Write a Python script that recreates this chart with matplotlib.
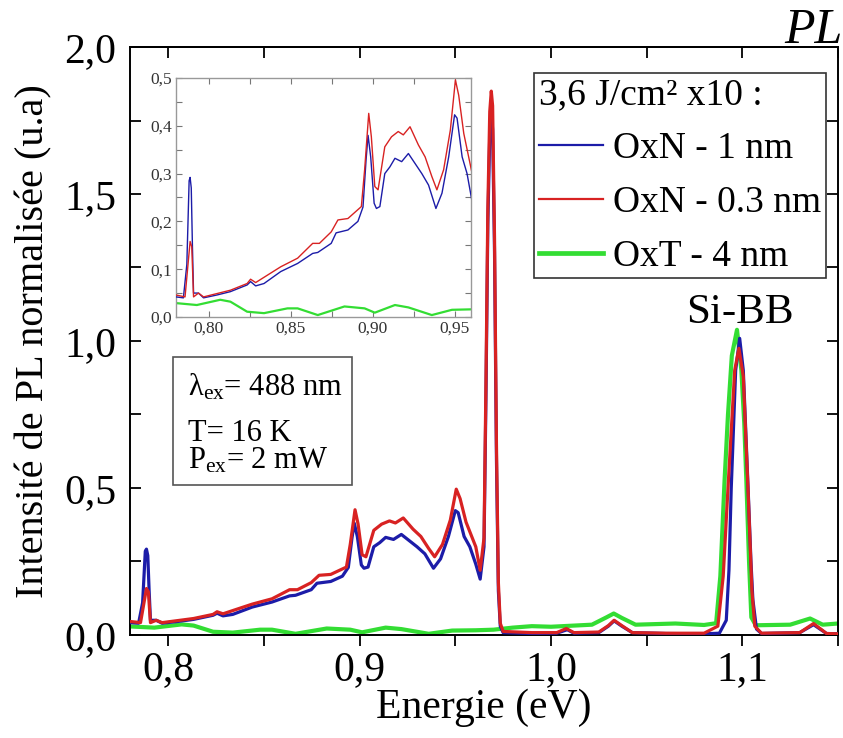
import matplotlib
matplotlib.use('Agg')
import matplotlib.pyplot as plt
from matplotlib.ticker import MultipleLocator
from matplotlib.patches import Rectangle

plt.rcParams['font.family'] = ['Liberation Serif', 'DejaVu Serif']
plt.rcParams['mathtext.fontset'] = 'custom'
plt.rcParams['mathtext.rm'] = 'Liberation Serif'
plt.rcParams['mathtext.it'] = 'Liberation Serif:italic'

# ---------------- data ----------------
E_blue = [0.7800, 0.7845, 0.7866, 0.7880, 0.7886, 0.7893, 0.7900, 0.7907, 0.7937, 0.7968,
          0.8050, 0.8132, 0.8234, 0.8255, 0.8286, 0.8337, 0.8439, 0.8542, 0.8634, 0.8665,
          0.8747, 0.8777, 0.8849, 0.8910, 0.8941, 0.8960, 0.8972, 0.8988, 0.9009, 0.9023,
          0.9044, 0.9074, 0.9105, 0.9136, 0.9177, 0.9218, 0.9259, 0.9300, 0.9341, 0.9386,
          0.9423, 0.9464, 0.9500, 0.9515, 0.9546, 0.9576, 0.9607, 0.9630, 0.9650, 0.9660,
          0.9670, 0.9680, 0.9688, 0.9695, 0.9705, 0.9715, 0.9725, 0.9735, 0.9750, 0.9900,
          1.0030, 1.0085, 1.0120, 1.0250, 1.0300, 1.0330, 1.0370, 1.0425, 1.0600, 1.0800,
          1.0880, 1.0916, 1.0930, 1.0942, 1.0965, 1.0986, 1.1005, 1.1030, 1.1045, 1.1055,
          1.1074, 1.1100, 1.1300, 1.1372, 1.1440, 1.1500]
I_blue = [0.042, 0.040, 0.110, 0.285, 0.292, 0.270, 0.150, 0.050, 0.050, 0.040,
          0.046, 0.053, 0.067, 0.074, 0.065, 0.070, 0.095, 0.112, 0.133, 0.135,
          0.154, 0.176, 0.182, 0.200, 0.230, 0.330, 0.380, 0.335, 0.238, 0.227,
          0.231, 0.300, 0.314, 0.332, 0.325, 0.342, 0.321, 0.300, 0.276, 0.227,
          0.259, 0.335, 0.423, 0.416, 0.335, 0.300, 0.241, 0.190, 0.300, 0.800,
          1.400, 1.700, 1.780, 1.720, 1.300, 0.600, 0.150, 0.030, 0.008, 0.005,
          0.006, 0.018, 0.006, 0.008, 0.030, 0.048, 0.030, 0.008, 0.005, 0.004,
          0.006, 0.050, 0.220, 0.500, 0.900, 1.009, 0.900, 0.500, 0.250, 0.120,
          0.020, 0.005, 0.008, 0.035, 0.005, 0.004]

E_red = [0.7800, 0.7855, 0.7870, 0.7886, 0.7896, 0.7907, 0.7937, 0.7968, 0.8132, 0.8234,
         0.8255, 0.8286, 0.8439, 0.8542, 0.8634, 0.8675, 0.8747, 0.8788, 0.8849, 0.8931,
         0.8951, 0.8976, 0.8992, 0.9013, 0.9033, 0.9074, 0.9115, 0.9156, 0.9187, 0.9228,
         0.9279, 0.9320, 0.9361, 0.9392, 0.9433, 0.9474, 0.9505, 0.9525, 0.9556, 0.9607,
         0.9630, 0.9650, 0.9660, 0.9670, 0.9680, 0.9688, 0.9695, 0.9705, 0.9715, 0.9725,
         0.9735, 0.9750, 0.9900, 1.0030, 1.0080, 1.0120, 1.0250, 1.0300, 1.0330, 1.0370,
         1.0425, 1.0600, 1.0800, 1.0872, 1.0900, 1.0925, 1.0960, 1.0982, 1.1005, 1.1030,
         1.1050, 1.1065, 1.1100, 1.1300, 1.1372, 1.1440, 1.1500]
I_red = [0.046, 0.042, 0.098, 0.158, 0.147, 0.042, 0.050, 0.042, 0.056, 0.070,
         0.079, 0.072, 0.105, 0.123, 0.154, 0.154, 0.178, 0.203, 0.206, 0.231,
         0.308, 0.426, 0.377, 0.273, 0.266, 0.356, 0.377, 0.388, 0.381, 0.398,
         0.360, 0.335, 0.294, 0.266, 0.308, 0.391, 0.496, 0.464, 0.384, 0.300,
         0.220, 0.330, 0.850, 1.450, 1.780, 1.850, 1.800, 1.350, 0.650, 0.180,
         0.040, 0.012, 0.008, 0.008, 0.022, 0.008, 0.010, 0.032, 0.050, 0.032,
         0.008, 0.006, 0.006, 0.030, 0.200, 0.500, 0.900, 0.975, 0.880, 0.490,
         0.150, 0.030, 0.006, 0.008, 0.039, 0.005, 0.004]

E_green = [0.7800, 0.7927, 0.8070, 0.8132, 0.8234, 0.8337, 0.8480, 0.8542, 0.8665, 0.8828,
           0.8951, 0.9013, 0.9136, 0.9218, 0.9361, 0.9484, 0.9607, 0.9700, 0.9800, 0.9900,
           1.0000, 1.0214, 1.0290, 1.0328, 1.0370, 1.0442, 1.0650, 1.0800, 1.0863, 1.0885,
           1.0907, 1.0925, 1.0945, 1.0972, 1.0995, 1.1010, 1.1021, 1.1035, 1.1047, 1.1070,
           1.1250, 1.1354, 1.1420, 1.1520]
I_green = [0.029, 0.025, 0.036, 0.032, 0.011, 0.008, 0.018, 0.018, 0.004, 0.022,
           0.018, 0.009, 0.025, 0.020, 0.004, 0.015, 0.016, 0.018, 0.025, 0.030,
           0.028, 0.035, 0.060, 0.073, 0.058, 0.035, 0.039, 0.034, 0.040, 0.200,
           0.524, 0.750, 0.950, 1.038, 0.900, 0.720, 0.524, 0.250, 0.060, 0.033,
           0.035, 0.056, 0.035, 0.040]

series_labels = ['OxN - 1 nm', 'OxN - 0.3 nm', 'OxT - 4 nm']
legend_title = '3,6 J/cm² x10 :'

x_ticks = [0.8, 0.9, 1.0, 1.1]
x_tick_labels = ['0,8', '0,9', '1,0', '1,1']
y_ticks = [0.0, 0.5, 1.0, 1.5, 2.0]
y_tick_labels = ['0,0', '0,5', '1,0', '1,5', '2,0']

in_x_ticks = [0.80, 0.85, 0.90, 0.95]
in_x_tick_labels = ['0,80', '0,85', '0,90', '0,95']
in_y_ticks = [0.0, 0.1, 0.2, 0.3, 0.4, 0.5]
in_y_tick_labels = ['0,0', '0,1', '0,2', '0,3', '0,4', '0,5']

C_BLUE = '#1c1ca8'
C_RED = '#d82222'
C_GREEN = '#33dd33'

# ---------------- figure ----------------
fig = plt.figure(figsize=(8.43, 7.38), dpi=100)
ax = fig.add_axes([0.1542, 0.1396, 0.8399, 0.7967])

ax.plot(E_blue, I_blue, color=C_BLUE, lw=2.3, label=series_labels[0], zorder=3)
ax.plot(E_red, I_red, color=C_RED, lw=2.3, label=series_labels[1], zorder=4)
ax.plot(E_green, I_green, color=C_GREEN, lw=3.0, label=series_labels[2], zorder=2)

ax.set_xlim(0.78, 1.15)
ax.set_ylim(0.0, 2.0)
ax.set_xticks(x_ticks)
ax.set_xticklabels(x_tick_labels)
ax.xaxis.set_minor_locator(MultipleLocator(0.05))
ax.set_yticks(y_ticks)
ax.set_yticklabels(y_tick_labels)
ax.yaxis.set_minor_locator(MultipleLocator(0.25))

ax.tick_params(axis='x', which='both', direction='out', length=8, width=1.3,
               labelsize=30, pad=3)
ax.tick_params(axis='y', which='both', direction='in', length=8, width=1.3,
               left=True, right=True, labelsize=30, pad=10)
for s in ax.spines.values():
    s.set_linewidth(1.4)

top = ax.secondary_xaxis('top')
top.xaxis.set_major_locator(MultipleLocator(0.05))
top.tick_params(direction='in', length=8, width=1.3, labeltop=False)
top.spines['top'].set_linewidth(1.4)

ax.set_xlabel('Energie (eV)', fontsize=30, labelpad=0)
ax.set_ylabel('Intensité de PL normalisée (u.a)', fontsize=29, labelpad=8)

leg = ax.legend(loc='upper right', bbox_to_anchor=(0.983, 0.956), title=legend_title,
                fontsize=27, title_fontsize=27, alignment='left', frameon=True,
                fancybox=False, edgecolor='#333333', framealpha=1, borderpad=0.12,
                labelspacing=0.52, handlelength=1.7, handletextpad=0.28,
                borderaxespad=0)
leg.get_frame().set_linewidth(1.2)
for h, w in zip(leg.legend_handles, [1.6, 1.6, 3.4]):
    h.set_linewidth(w)

ax.text(1.0989, 1.061, 'Si-BB', ha='center', va='baseline', fontsize=31)

# condition box
ax.add_patch(Rectangle((0.0607, 0.2551), 0.2529, 0.2177, transform=ax.transAxes,
                       fill=True, facecolor='white', edgecolor='#555555', lw=1.2, zorder=5))
ax.text(0.0819, 0.408, 'λ$_{\\mathrm{ex}}$= 488 nm', transform=ax.transAxes,
        fontsize=22, va='baseline', ha='left', zorder=6)
ax.text(0.0819, 0.3295, 'T= 16 K', transform=ax.transAxes,
        fontsize=22, va='baseline', ha='left', zorder=6)
ax.text(0.0819, 0.2830, 'P$_{\\mathrm{ex}}$= 2 mW', transform=ax.transAxes,
        fontsize=22, va='baseline', ha='left', zorder=6)

fig.text(0.999, 0.9417, 'PL', ha='right', va='baseline', fontsize=36, style='italic')

# ---------------- inset ----------------
axin = fig.add_axes([0.2088, 0.5705, 0.3499, 0.3238])
axin.plot(E_blue, I_blue, color=C_BLUE, lw=1.0, zorder=3)
axin.plot(E_red, I_red, color=C_RED, lw=1.0, zorder=4)
axin.plot(E_green, I_green, color=C_GREEN, lw=1.6, zorder=2)
axin.set_xlim(0.78, 0.96)
axin.set_ylim(0.0, 0.5)
axin.set_xticks(in_x_ticks)
axin.set_xticklabels(in_x_tick_labels)
axin.xaxis.set_minor_locator(MultipleLocator(0.025))
axin.set_yticks(in_y_ticks)
axin.set_yticklabels(in_y_tick_labels)
axin.yaxis.set_minor_locator(MultipleLocator(0.05))
axin.tick_params(which='both', direction='in', top=True, right=True, length=4,
                 width=0.8, color='#777777', labelsize=12.5, labelcolor='#333333', pad=3)
for s in axin.spines.values():
    s.set_color('#999999')
    s.set_linewidth(1.0)

fig.savefig('out.png', dpi=100)
